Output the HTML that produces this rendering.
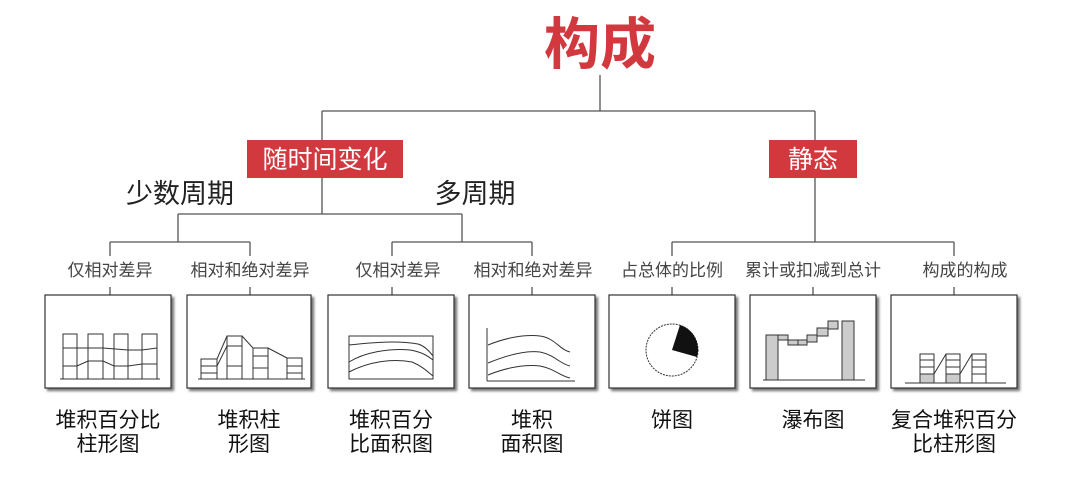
<!DOCTYPE html>
<html><head><meta charset="utf-8"><style>
html,body{margin:0;padding:0;background:#fff;}
svg{display:block;}
text{font-family:"Liberation Sans","Noto Sans CJK SC",sans-serif;}
</style></head><body>
<svg width="1080" height="478" viewBox="0 0 1080 478" xmlns="http://www.w3.org/2000/svg">
<defs>
<filter id="sh" x="-5%" y="-5%" width="115%" height="120%"><feDropShadow dx="2.5" dy="2.5" stdDeviation="1.2" flood-color="#555" flood-opacity="0.8"/></filter>
</defs>
<!-- title -->
<text x="600" y="64" font-size="56" font-weight="bold" fill="#d2393f" text-anchor="middle" font-family="Noto Sans CJK SC, sans-serif">构成</text>
<g stroke="#555" stroke-width="1.3" fill="none">
<line x1="600" y1="75" x2="600" y2="111"/>
<line x1="322" y1="111" x2="815" y2="111"/>
<line x1="322" y1="111" x2="322" y2="140"/>
<line x1="815" y1="111" x2="815" y2="140"/>
<line x1="322" y1="178" x2="322" y2="214"/>
<line x1="178" y1="214" x2="462" y2="214"/>
<line x1="178" y1="214" x2="178" y2="242"/>
<line x1="462" y1="214" x2="462" y2="242"/>
<line x1="110" y1="242" x2="250" y2="242"/>
<line x1="392" y1="242" x2="532" y2="242"/>
<line x1="110" y1="242" x2="110" y2="256"/>
<line x1="250" y1="242" x2="250" y2="256"/>
<line x1="392" y1="242" x2="392" y2="256"/>
<line x1="532" y1="242" x2="532" y2="256"/>
<line x1="815" y1="178" x2="815" y2="242"/>
<line x1="672" y1="242" x2="954" y2="242"/>
<line x1="672" y1="242" x2="672" y2="256"/>
<line x1="954" y1="242" x2="954" y2="256"/>
<line x1="110" y1="287" x2="110" y2="295"/>
<line x1="250" y1="287" x2="250" y2="295"/>
<line x1="392" y1="287" x2="392" y2="295"/>
<line x1="532" y1="287" x2="532" y2="295"/>
<line x1="672" y1="287" x2="672" y2="295"/>
<line x1="813" y1="287" x2="813" y2="295"/>
<line x1="954" y1="287" x2="954" y2="295"/>
</g>
<rect x="247" y="140" width="156" height="38" fill="#d2393f"/>
<text x="325" y="168" font-size="25" fill="#fff" text-anchor="middle">随时间变化</text>
<rect x="769" y="140" width="88" height="38" fill="#d2393f"/>
<text x="813" y="168" font-size="25" fill="#fff" text-anchor="middle">静态</text>
<text x="180" y="203" font-size="27" fill="#222" text-anchor="middle">少数周期</text>
<text x="475" y="203" font-size="27" fill="#222" text-anchor="middle">多周期</text>
<g font-size="17" fill="#444" text-anchor="middle">
<text x="110" y="276">仅相对差异</text>
<text x="250" y="276">相对和绝对差异</text>
<text x="398" y="276">仅相对差异</text>
<text x="533" y="276">相对和绝对差异</text>
<text x="672" y="276">占总体的比例</text>
<text x="813" y="276">累计或扣减到总计</text>
<text x="965" y="276">构成的构成</text>
</g>
<!-- boxes -->
<g fill="#fff" stroke="#333" stroke-width="1.2" filter="url(#sh)">
<rect x="45" y="295" width="126" height="93"/>
<rect x="187" y="295" width="124" height="93"/>
<rect x="328" y="295" width="126" height="93"/>
<rect x="469" y="295" width="126" height="93"/>
<rect x="609" y="295" width="126" height="93"/>
<rect x="750" y="295" width="126" height="93"/>
<rect x="891" y="295" width="126" height="93"/>
</g>
<!-- chart 1 -->
<g stroke="#333" stroke-width="1" fill="none">
<rect x="63" y="334" width="14" height="45"/><rect x="88" y="334" width="15" height="45"/>
<rect x="114" y="334" width="14" height="45"/><rect x="142" y="334" width="15" height="45"/>
<polyline points="63,348 103,348 128,350 142,350 157,348"/>
<polyline points="63,366 77,366 88,361 103,361 114,366 128,366 142,364 157,364"/>
<line x1="60" y1="379" x2="160" y2="379"/>
</g>
<!-- chart 2 -->
<g stroke="#333" stroke-width="1" fill="none">
<rect x="201" y="359" width="16" height="20"/><rect x="227" y="336" width="15" height="43"/>
<rect x="253" y="348" width="15" height="31"/><rect x="287" y="358" width="15" height="21"/>
<line x1="201" y1="366" x2="217" y2="366"/><line x1="201" y1="373" x2="217" y2="373"/>
<line x1="227" y1="346" x2="242" y2="346"/><line x1="227" y1="366" x2="242" y2="366"/>
<line x1="253" y1="356" x2="268" y2="356"/><line x1="253" y1="368" x2="268" y2="368"/>
<line x1="287" y1="366" x2="302" y2="366"/><line x1="287" y1="373" x2="302" y2="373"/>
<line x1="217" y1="359" x2="227" y2="336"/><line x1="217" y1="366" x2="227" y2="346"/>
<line x1="242" y1="336" x2="253" y2="348"/><line x1="268" y1="348" x2="287" y2="358"/>
<line x1="198" y1="379" x2="305" y2="379"/>
</g>
<!-- chart 3 -->
<g stroke="#333" stroke-width="1" fill="none">
<rect x="349" y="336" width="84" height="43"/>
<path d="M349,345 C370,343 395,340 418,344 C425,346 430,352 433,356"/>
<path d="M349,362 C365,352 390,348 410,350 C422,352 428,356 433,360"/>
<path d="M349,372 C368,362 392,358 412,362 C422,366 428,372 433,376"/>
</g>
<!-- chart 4 -->
<g stroke="#333" stroke-width="1" fill="none">
<line x1="487" y1="328" x2="487" y2="381"/>
<line x1="487" y1="381" x2="575" y2="381"/>
<path d="M488,345 C505,338 525,334 540,336 C555,338 560,350 570,352"/>
<path d="M488,363 C505,356 525,350 540,352 C555,355 560,364 570,366"/>
<path d="M488,375 C505,368 525,364 540,366 C555,369 560,376 570,378"/>
</g>
<!-- pie -->
<circle cx="672" cy="350" r="26" fill="#fff" stroke="#333" stroke-width="1" stroke-dasharray="2,1"/>
<path d="M672,350 L680,325 A26,26 0 0,1 697,357 Z" fill="#111"/>
<!-- waterfall -->
<g stroke="#333" stroke-width="1">
<rect x="766" y="335" width="12" height="45" fill="#ccc"/>
<rect x="778" y="335" width="10" height="5" fill="#ccc"/>
<rect x="788" y="340" width="10" height="5" fill="#ccc"/>
<rect x="798" y="340" width="9" height="5" fill="#ccc"/>
<rect x="807" y="335" width="10" height="7" fill="#ccc"/>
<rect x="817" y="328" width="11" height="8" fill="#ccc"/>
<rect x="828" y="321" width="10" height="8" fill="#ccc"/>
<rect x="842" y="321" width="12" height="59" fill="#ccc"/>
<line x1="763" y1="380" x2="865" y2="380"/>
</g>
<!-- composite -->
<g stroke="#333" stroke-width="1" fill="none">
<rect x="920" y="354" width="14" height="29"/><rect x="946" y="354" width="14" height="29"/><rect x="972" y="354" width="14" height="29"/>
<rect x="920" y="374" width="14" height="9" fill="#ccc"/><rect x="946" y="374" width="14" height="9" fill="#ccc"/>
<line x1="920" y1="360" x2="934" y2="360"/><line x1="920" y1="367" x2="934" y2="367"/>
<line x1="946" y1="360" x2="960" y2="360"/><line x1="946" y1="367" x2="960" y2="367"/>
<line x1="972" y1="360" x2="986" y2="360"/><line x1="972" y1="367" x2="986" y2="367"/><line x1="972" y1="374" x2="986" y2="374"/>
<line x1="934" y1="374" x2="946" y2="354"/><line x1="960" y1="374" x2="972" y2="354"/>
<line x1="905" y1="383" x2="1006" y2="383"/>
</g>
<!-- bottom labels -->
<g font-size="21" fill="#111" text-anchor="middle">
<text x="108" y="427">堆积百分比</text><text x="108" y="451">柱形图</text>
<text x="249" y="427">堆积柱</text><text x="249" y="451">形图</text>
<text x="391" y="427">堆积百分</text><text x="391" y="451">比面积图</text>
<text x="532" y="427">堆积</text><text x="532" y="451">面积图</text>
<text x="672" y="427">饼图</text>
<text x="813" y="427">瀑布图</text>
<text x="954" y="427">复合堆积百分</text><text x="954" y="451">比柱形图</text>
</g>
</svg>
</body></html>
